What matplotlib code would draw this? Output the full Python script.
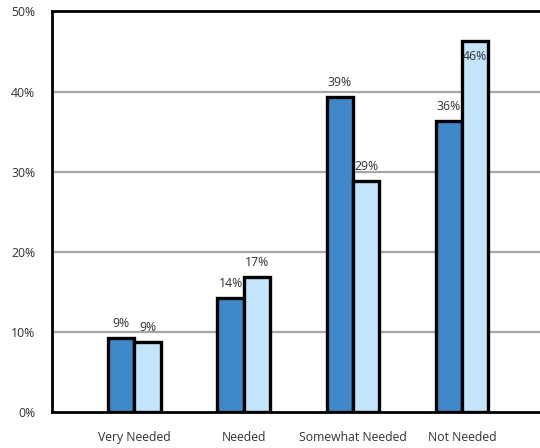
import matplotlib
matplotlib.use('Agg')
import matplotlib.pyplot as plt
from matplotlib.ticker import FuncFormatter

plt.rcParams['font.family'] = ['Open Sans', 'DejaVu Sans']

categories = ['Very Needed', 'Needed', 'Somewhat Needed', 'Not Needed']
series_a = [9.2, 14.2, 39.3, 36.3]   # dark blue
series_b = [8.8, 16.9, 28.9, 46.3]   # light blue
labels_a = ['9%', '14%', '39%', '36%']
labels_b = ['9%', '17%', '29%', '46%']

dark = '#3F88C9'
light = '#C3E5FB'
text_col = '#333333'

fig = plt.figure(figsize=(5.4, 4.48), dpi=100)
ax = fig.add_axes([52 / 540, 36 / 448, 488 / 540, 400.5 / 448])

x = list(range(len(categories)))
w = 0.241
xa = [i - w / 2 for i in x]
xb = [i + w / 2 for i in x]

ax.bar(xa, series_a, width=w, color=dark, edgecolor='black', linewidth=2.4, zorder=3)
ax.bar(xb, series_b, width=w, color=light, edgecolor='black', linewidth=2.4, zorder=3)

# value labels
for xi, v, lab in zip(xa, series_a, labels_a):
    ax.text(xi, v + 1.0, lab, ha='center', va='bottom', fontsize=8.8, color=text_col, zorder=4)
for xi, v, lab in zip(xb, series_b, labels_b):
    if v > 44:
        # no room above, Excel pushed it inside the bar
        ax.text(xi, v - 1.1, lab, ha='center', va='top', fontsize=8.8, color=text_col, zorder=4)
    else:
        ax.text(xi, v + 1.0, lab, ha='center', va='bottom', fontsize=8.8, color=text_col, zorder=4)

ax.set_ylim(0, 50)
ax.set_xlim(-0.755, 3.713)
ax.set_yticks([0, 10, 20, 30, 40, 50])
ax.yaxis.set_major_formatter(FuncFormatter(lambda v, p: f'{v:.0f}%'))
ax.set_xticks(x)
ax.set_xticklabels(categories)
ax.tick_params(axis='both', length=0, labelsize=8.8, colors=text_col)
ax.tick_params(axis='x', pad=14)
ax.tick_params(axis='y', pad=12)

for yv in [10, 20, 30, 40]:
    ax.axhline(yv, color='#A6A6A6', linewidth=1.6, zorder=1)

ax.spines['right'].set_visible(False)
for s in ['left', 'bottom', 'top']:
    ax.spines[s].set_linewidth(2)
    ax.spines[s].set_color('black')

fig.savefig('out.png', dpi=100)
